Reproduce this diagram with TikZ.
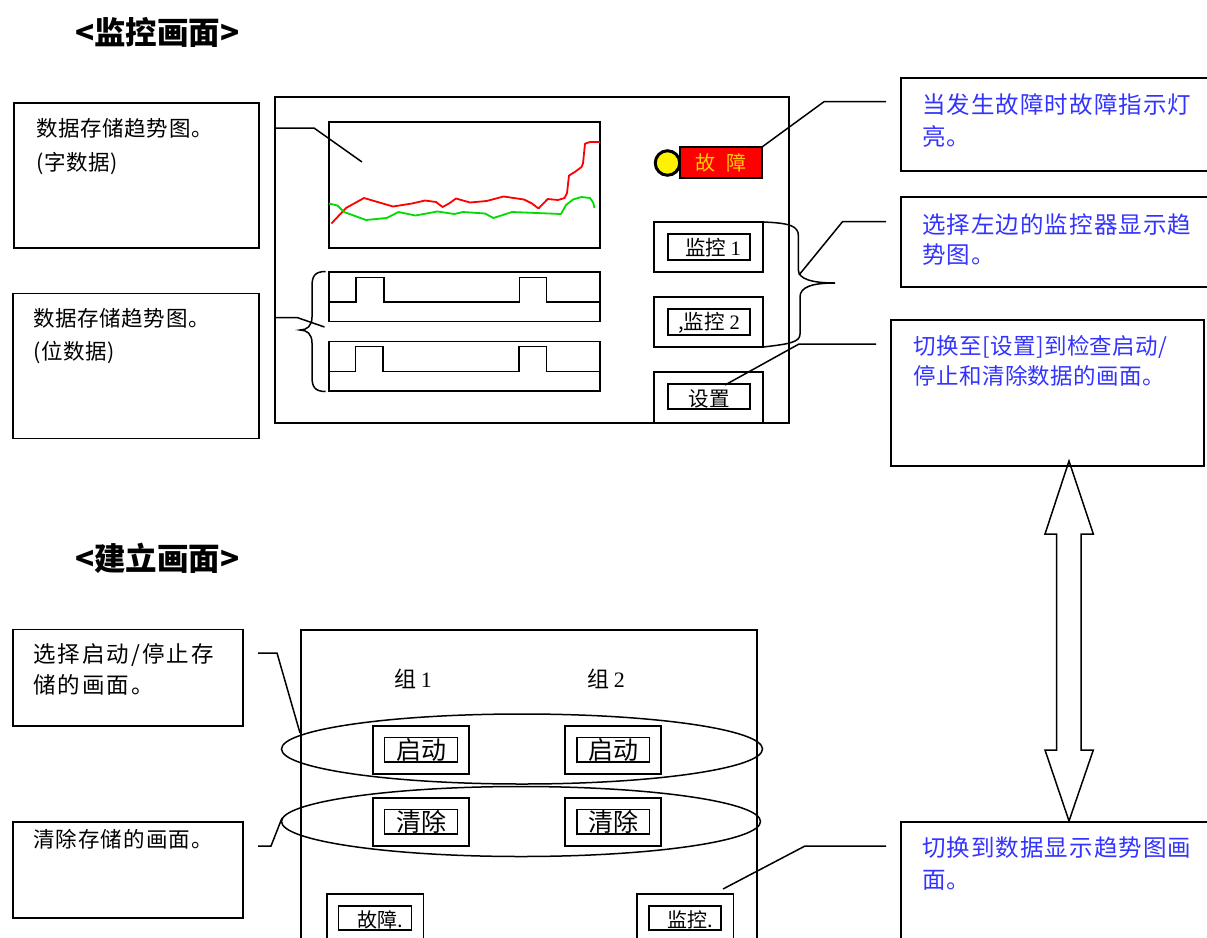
\documentclass[tikz,border=0pt]{standalone}
\usepackage{fontspec}
\setmainfont{Noto Sans CJK SC}
\newfontfamily\numfont{Liberation Serif}
\usetikzlibrary{fit}
\definecolor{bluetxt}{RGB}{51,51,255}
\definecolor{faultgold}{RGB}{255,204,0}
\definecolor{trendgreen}{RGB}{0,220,0}
\definecolor{trendred}{RGB}{255,0,0}
\newcommand\fsz[2]{\fontsize{#1pt}{#2pt}\selectfont}
\begin{document}
\begin{tikzpicture}[x=1pt,y=-1pt,
  box/.style={draw, line width=1.6pt, inner sep=0pt, outer sep=0pt},
  lead/.style={line width=1.5pt},
  txt/.style={inner sep=0pt, anchor=north west, align=left},
  btxt/.style={inner sep=0pt, text=black},
  title/.style={inner sep=0pt, anchor=west, font=\fsz{31.5}{34}\bfseries},
  note/.style={txt, font=\fsz{21.5}{34}\addfontfeature{LetterSpace=3}},
  bnote/.style={txt, text=bluetxt, font=\fsz{23.5}{32}\addfontfeature{LetterSpace=4.5}}
]
\useasboundingbox (0,0) rectangle (1207,937);

% ---------- titles ----------
\node[title] (t1) at (75,32) {<监控画面>};
\node[title] (t2) at (75,558) {<建立画面>};

% ---------- monitor screen: left notes ----------
\node[box, fit={(14,103) (259,248)}] (n1) {};
\node[note] (n1t) at (36,118.5) {数据存储趋势图。\\(字数据)};
\node[box, fit={(12.7,293.3) (259,438.3)}] (n2) {};
\node[note, font=\fsz{21.5}{33}\addfontfeature{LetterSpace=3}] (n2t) at (33,308.5) {数据存储趋势图。\\(位数据)};

% ---------- monitor frame ----------
\node[box, fit={(275,97) (789,423)}] (f1) {};
\node[box, fit={(329,122) (600,248)}] (trend) {};
\node[box, fit={(329,272) (600,321.5)}] (bitA) {};
\node[box, fit={(329,341.5) (600,391)}] (bitB) {};

% trend curves
\draw[trendred, line width=1.8pt, line join=round]
  (331.4,223.5) -- (346,208) -- (364,198) -- (393,206.5) -- (412,203.5) -- (425,200.5)
  -- (436,202) -- (442.6,207) -- (449,203.5) -- (456,198.5) -- (470,202.5) -- (486.6,201)
  -- (503.6,196.5) -- (524,199.5) -- (532,203.5) -- (538.5,208.5) -- (547.7,199) -- (558,200)
  -- (564.6,198) -- (567,193) -- (569,175.5) -- (574.8,172) -- (581.5,167) -- (583,163.4)
  -- (585,143.7) -- (590,142) -- (600,142);
\draw[trendgreen, line width=1.8pt, line join=round]
  (329,203.5) -- (337.5,205.5) -- (344,212) -- (366,220) -- (386.6,218) -- (398.5,212)
  -- (415.4,215.5) -- (437.5,211.5) -- (454.4,214) -- (463,212) -- (485,213.5) -- (493.4,218)
  -- (512,212) -- (561,214) -- (566,205) -- (573,199.5) -- (581.5,197) -- (590,198)
  -- (593.4,203) -- (594.4,208);

% bit pulses
\draw[line width=1.6pt] (329,302) -- (356,302) -- (356,277.3) -- (384,277.3) -- (384,302)
  -- (519.5,302) -- (519.5,277.3) -- (546.6,277.3) -- (546.6,302) -- (600,302);
\draw[line width=1.6pt] (329,371.5) -- (355.5,371.5) -- (355.5,346.5) -- (383,346.5) -- (383,371.5)
  -- (518.8,371.5) -- (518.8,346.5) -- (546.6,346.5) -- (546.6,371.5) -- (600,371.5);

% left brace
\draw[line width=1.5pt] (325.6,271.5) .. controls (315,271.5) and (312,276) .. (312,286)
  -- (312,317) .. controls (312,326) and (307,330) .. (300,330)
  .. controls (307,330) and (312,334) .. (312,343)
  -- (312,377) .. controls (312,387) and (315,391.5) .. (325.6,391.5);

% fault lamp
\node[circle, draw, line width=3pt, fill=yellow, minimum size=24.5pt, inner sep=0pt] (lamp) at (667.5,163) {};
\node[box, fill=red, fit={(680,147) (762,178)}] (flt) {};
\node[inner sep=0pt, text=faultgold, font=\fsz{20}{20}] (fltt) at (flt.center) {故\hspace{0.55em}障};

% buttons
\node[box, fit={(654,222) (763,272)}] (m1o) {};
\node[box, fit={(668,234) (750,260)}] (m1i) {};
\node[btxt, font=\fsz{20.5}{20}] (m1t) at (713,248) {监控 {\numfont 1}};
\node[box, fit={(654,297) (763,347)}] (m2o) {};
\node[box, fit={(668,309) (750,335)}] (m2i) {};
\node[btxt, font=\fsz{20.5}{20}] (m2t) at (709,323) {,监控 {\numfont 2}};
\node[box, fit={(654,372) (763,423)}] (so) {};
\node[box, fit={(668,384) (750,409)}] (si) {};
\node[btxt, font=\fsz{20.5}{20}] (st) at (709,399) {设置};

% right brace
\draw[line width=1.5pt] (m1o.north east) .. controls (790,223) and (798.4,226) .. (798.4,236)
  -- (798.4,270) .. controls (798.4,279) and (812,283) .. (835,283)
  .. controls (812,283) and (800,287) .. (800,297)
  -- (800,334) .. controls (800,342) and (790,344) .. (m2o.south east);

% ---------- monitor screen: right notes ----------
\node[box, fit={(901,78) (1215,171)}] (r1) {};
\node[bnote] (r1t) at (922,93) {当发生故障时故障指示灯\\亮。};
\node[box, fit={(901,197) (1215,287)}] (r2) {};
\node[bnote, font=\fsz{23.5}{30}\addfontfeature{LetterSpace=4.5}] (r2t) at (922,213) {选择左边的监控器显示趋\\势图。};
\node[box, fit={(891,320) (1204,466)}] (r3) {};
\node[bnote, font=\fsz{22.5}{30}\addfontfeature{LetterSpace=2}] (r3t) at (913,335.5) {切换至[设置]到检查启动/\\停止和清除数据的画面。};

% leaders (monitor)
\coordinate (c1a) at (275,128);
\coordinate (c1b) at (314,128);
\coordinate (c1c) at (362,162);
\draw[lead] (c1a) -- (c1b) -- (c1c);
\coordinate (c2a) at (275,317.5);
\coordinate (c2b) at (297,317.5);
\coordinate (c2c) at (324.5,327);
\draw[lead] (c2a) -- (c2b) -- (c2c);
\coordinate (c3b) at (824,101.7);
\coordinate (c3c) at (886,101.7);
\draw[lead] (flt.north east) -- (c3b) -- (c3c);
\coordinate (c4a) at (799,275);
\coordinate (c4b) at (842.5,221.7);
\coordinate (c4c) at (886,221.7);
\draw[lead] (c4a) -- (c4b) -- (c4c);
\coordinate (c5a) at (725,385);
\coordinate (c5b) at (799,344);
\coordinate (c5c) at (876,344);
\draw[lead] (c5a) -- (c5b) -- (c5c);

% ---------- double arrow ----------
\draw[line width=1.5pt, line join=miter] (1069,461) -- (1093.3,534) -- (1081,534) -- (1081,750)
  -- (1093.3,750) -- (1069,821) -- (1045,750) -- (1056.7,750) -- (1056.7,534) -- (1045,534) -- cycle;

% ---------- setup screen ----------
\node[box, fit={(301,630) (757,960)}] (f2) {};
\node[btxt, font=\fsz{22}{22}] (g1) at (413,679) {组 {\numfont 1}};
\node[btxt, font=\fsz{22}{22}] (g2) at (606,679) {组 {\numfont 2}};

\node[box, fit={(372.7,726) (469,774)}] (qd1o) {};
\node[box, fit={(384.3,737.3) (457.3,762)}] (qd1i) {};
\node[btxt, font=\fsz{25}{25}] (qd1t) at (421,750) {启动};
\node[box, fit={(565,726) (661,774)}] (qd2o) {};
\node[box, fit={(576.7,737.3) (649.3,762)}] (qd2i) {};
\node[btxt, font=\fsz{25}{25}] (qd2t) at (613,750) {启动};
\node[box, fit={(372.7,797.7) (469,846)}] (qc1o) {};
\node[box, fit={(384.3,809.3) (457.3,834)}] (qc1i) {};
\node[btxt, font=\fsz{25}{25}] (qc1t) at (421,822) {清除};
\node[box, fit={(565,797.7) (661,846)}] (qc2o) {};
\node[box, fit={(576.7,809.3) (649.3,834)}] (qc2i) {};
\node[btxt, font=\fsz{25}{25}] (qc2t) at (613,822) {清除};

\draw[line width=1.5pt] (522,749) ellipse [x radius=240.5pt, y radius=35pt];
\draw[line width=1.5pt] (521,821.5) ellipse [x radius=239.5pt, y radius=35pt];

\node[box, fit={(326.7,894) (423.3,960)}] (gzo) {};
\node[box, fit={(338.3,905.7) (411.3,930)}] (gzi) {};
\node[btxt, font=\fsz{20}{20}] (gzt) at (380,920) {故障.};
\node[box, fit={(636.7,894) (733.3,960)}] (jko) {};
\node[box, fit={(649,905.7) (721,930)}] (jki) {};
\node[btxt, font=\fsz{20}{20}] (jkt) at (690,920) {监控.};

% left notes (setup)
\node[box, fit={(12.7,629.3) (242.7,726)}] (n3) {};
\node[txt, font=\fsz{22.5}{31}\addfontfeature{LetterSpace=9}] (n3t) at (33,643.5) {选择启动/停止存\\储的画面。};
\node[box, fit={(12.7,821.7) (242.7,917.7)}] (n4) {};
\node[txt, font=\fsz{21.5}{31}\addfontfeature{LetterSpace=5}] (n4t) at (33,829) {清除存储的画面。};

% right note (setup)
\node[box, fit={(901,822) (1215,960)}] (r4) {};
\node[bnote] (r4t) at (922,836) {切换到数据显示趋势图画\\面。};

% leaders (setup)
\coordinate (c6a) at (258,653);
\coordinate (c6b) at (277,653);
\coordinate (c6c) at (300,733);
\draw[lead] (c6a) -- (c6b) -- (c6c);
\coordinate (c7a) at (258,846);
\coordinate (c7b) at (271,846);
\coordinate (c7c) at (282,818);
\draw[lead] (c7a) -- (c7b) -- (c7c);
\coordinate (c8a) at (723,889);
\coordinate (c8b) at (805,846);
\coordinate (c8c) at (886,846);
\draw[lead] (c8a) -- (c8b) -- (c8c);
\end{tikzpicture}
\end{document}
